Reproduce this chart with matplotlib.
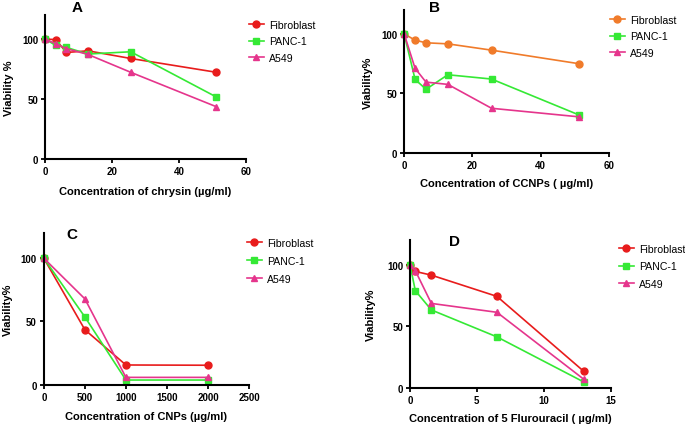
import numpy as np
import matplotlib
matplotlib.use('Agg')
import matplotlib.pyplot as plt

plt.rcParams['font.family'] = ['Liberation Sans', 'DejaVu Sans']

# Panel A: chrysin
conc_a = [0, 3.2, 6.4, 12.8, 25.6, 51.2]
fib_a = [100, 99.5, 88.8, 90.2, 83.8, 72.3]
panc_a = [100, 94.7, 93, 87.5, 89.4, 51.7]
a549_a = [100, 96, 92, 87.2, 72.3, 43.6]

# Panel B: CCNPs
conc_b = [0, 3.2, 6.4, 12.8, 25.6, 51.2]
fib_b = [100, 94.7, 92.5, 91.6, 86.3, 74.9]
panc_b = [100, 61.7, 53.4, 65.6, 62, 31.8]
a549_b = [100, 71, 59.4, 57.5, 37.4, 30.2]

# Panel C: CNPs
conc_c = [0, 500, 1000, 2000]
fib_c = [100, 43.5, 15.6, 15.4]
panc_c = [100, 53.6, 3.7, 3.7]
a549_c = [100, 67.9, 5.8, 5.8]

# Panel D: 5 Flurouracil
conc_d = [0, 0.4, 1.6, 6.5, 13]
fib_d = [100, 94.4, 91.4, 74.2, 13.4]
panc_d = [100, 78.8, 63.2, 41.4, 4.8]
a549_d = [100, 95, 68.5, 61.3, 7]

labels = ['Fibroblast', 'PANC-1', 'A549']
red = '#e81c1c'
orange = '#f07b2a'
green = '#35e935'
pink = '#e5358c'
markers = ['o', 's', '^']

fig = plt.figure(figsize=(6.85, 4.27), dpi=100)


def make_panel(rect, x, series, colors, xticks, xlabel, ylabel, letter, letter_pos,
               leg_pos, xpad, ypad, spacing):
    ax = fig.add_axes(rect)
    for ys, c, m, lab in zip(series, colors, markers, labels):
        ax.plot(x, ys, color=c, marker=m, markersize=5, linewidth=1.2, label=lab,
                clip_on=False)
    ax.set_xlim(xticks[0], xticks[-1])
    ax.set_ylim(0, 120)
    ax.set_xticks(xticks)
    ax.set_yticks([0, 50, 100])
    ax.spines['top'].set_visible(False)
    ax.spines['right'].set_visible(False)
    ax.spines['left'].set_linewidth(1.5)
    ax.spines['bottom'].set_linewidth(1.5)
    ax.tick_params(width=1.3, length=3, labelsize=7, pad=2)
    for t in ax.get_xticklabels() + ax.get_yticklabels():
        t.set_fontweight('bold')
    ax.set_xlabel(xlabel, fontsize=8, fontweight='bold', labelpad=xpad)
    ax.set_ylabel(ylabel, fontsize=8, fontweight='bold', labelpad=ypad)
    fig.text(letter_pos[0], letter_pos[1], letter, fontsize=11, fontweight='bold',
             ha='center', va='center')
    ax.legend(loc='upper left', bbox_to_anchor=leg_pos, bbox_transform=fig.transFigure,
              frameon=False, fontsize=7.6, handlelength=1.4, borderpad=0, borderaxespad=0,
              labelspacing=spacing, handletextpad=0.5)
    return ax


make_panel([0.0657, 0.625, 0.2933, 0.3375], conc_a, [fib_a, panc_a, a549_a],
           [red, green, pink], [0, 20, 40, 60],
           'Concentration of chrysin (µg/ml)', 'Viability %', 'A',
           (77 / 685, 1 - 8 / 427), (249 / 685, 1 - 21 / 427), 7.5, 6, 0.6)

make_panel([0.590, 0.640, 0.299, 0.334], conc_b, [fib_b, panc_b, a549_b],
           [orange, green, pink], [0, 20, 40, 60],
           'Concentration of CCNPs ( µg/ml)', 'Viability%', 'B',
           (435 / 685, 1 - 8 / 427), (610 / 685, 1 - 16 / 427), 6, 6, 0.6)

make_panel([0.064, 0.0967, 0.2995, 0.3553], conc_c, [fib_c, panc_c, a549_c],
           [red, green, pink], [0, 500, 1000, 1500, 2000, 2500],
           'Concentration of CNPs (µg/ml)', 'Viability%', 'C',
           (72 / 685, 1 - 235 / 427), (247 / 685, 1 - 239 / 427), 6.5, 6, 0.75)

make_panel([0.5985, 0.089, 0.293, 0.347], conc_d, [fib_d, panc_d, a549_d],
           [red, green, pink], [0, 5, 10, 15],
           'Concentration of 5 Flurouracil ( µg/ml)', 'Viability%', 'D',
           (455 / 685, 1 - 242 / 427), (619 / 685, 1 - 245 / 427), 6, 8, 0.7)

fig.savefig('out.png', dpi=100)
